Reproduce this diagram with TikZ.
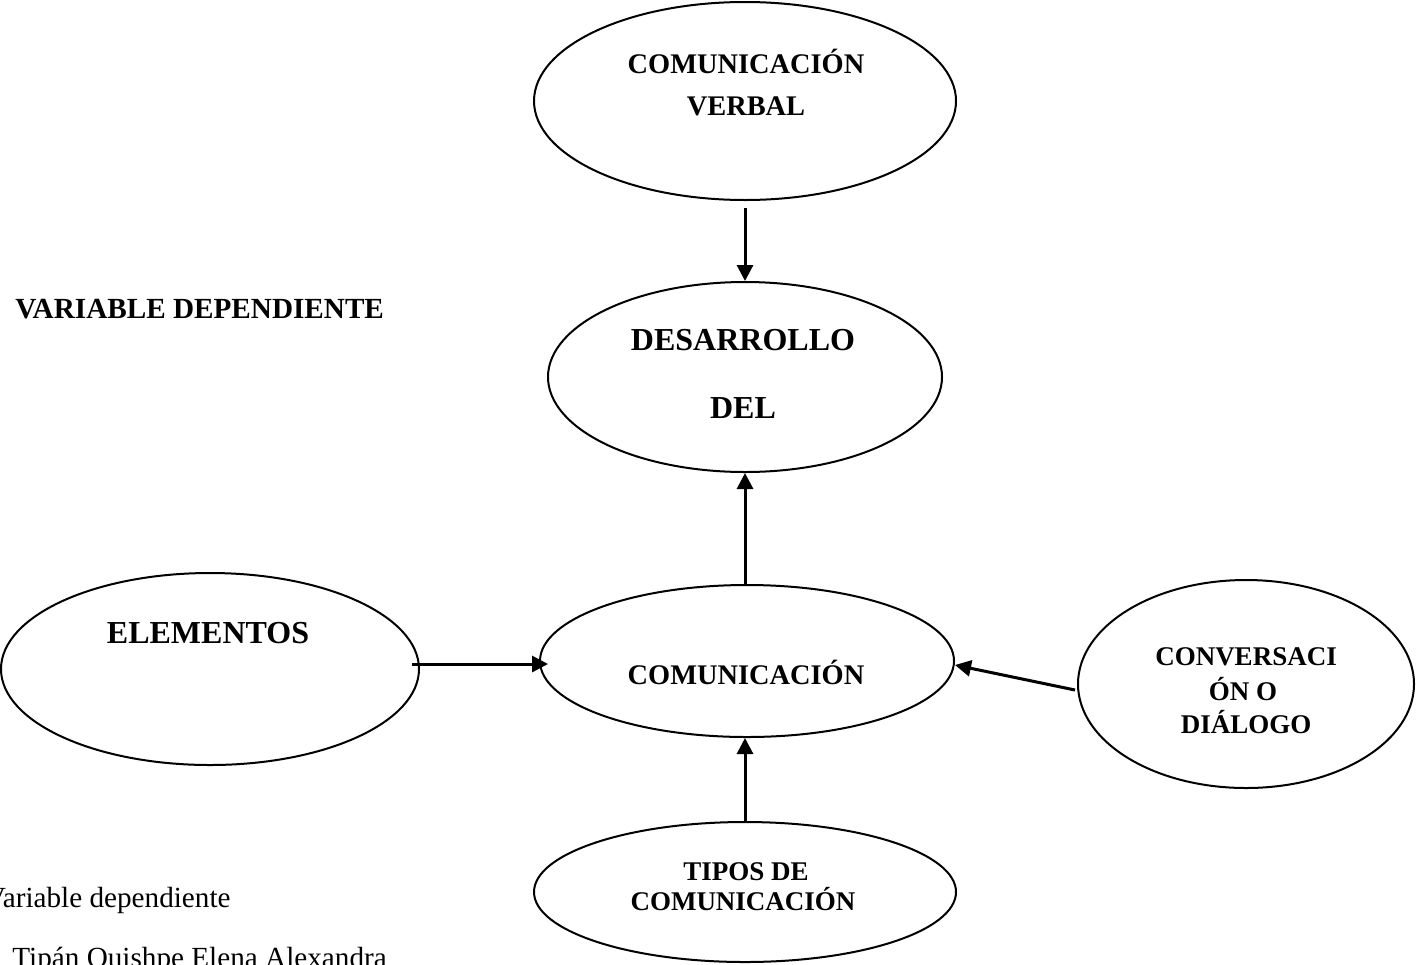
\documentclass[tikz,border=0pt]{standalone}
\usepackage{fontspec}
\setmainfont{Liberation Serif}
\usetikzlibrary{shapes.geometric,arrows.meta}
\tikzset{
  ell/.style={draw, ellipse, inner sep=0pt, line width=1pt},
  arr/.style={line width=1.5pt, -{Triangle[length=8pt,width=8pt]}},
  lbl/.style={anchor=base, inner sep=0pt, font=\bfseries\fontsize{14.2}{16}\selectfont},
  lblb/.style={anchor=base, inner sep=0pt, font=\bfseries\fontsize{16}{18}\selectfont},
  lbls/.style={anchor=base, inner sep=0pt, font=\bfseries\fontsize{13.5}{16}\selectfont},
  plain/.style={inner sep=0pt, font=\fontsize{14.6}{16}\selectfont}
}
\begin{document}
\begin{tikzpicture}[x=0.5pt,y=-0.5pt]
\useasboundingbox (0,0) rectangle (1416,964);
% ellipses
\node[ell, minimum width=211pt, minimum height=99pt] (verbal) at (745,101) {};
\node[ell, minimum width=197pt, minimum height=95pt] (desarrollo) at (745,377) {};
\node[ell, minimum width=209pt, minimum height=96pt] (elem) at (210,669) {};
\node[ell, minimum width=207pt, minimum height=76pt] (com) at (747,661) {};
\node[ell, minimum width=168pt, minimum height=104pt] (conv) at (1246,684) {};
\node[ell, minimum width=211pt, minimum height=70pt] (tipos) at (745,892) {};
% texts
\node[lbl] (t1a) at (746,73) {COMUNICACIÓN};
\node[lbl] (t1b) at (746,115) {VERBAL};
\node[lblb] (t2a) at (743,350) {DESARROLLO};
\node[lblb] (t2b) at (743,418) {DEL};
\node[lblb] (t3) at (208,643) {ELEMENTOS};
\node[lbl] (t4) at (746,684) {COMUNICACIÓN};
\node[lbls] (t5a) at (1246,665) {CONVERSACI};
\node[lbls] (t5b) at (1243,700) {ÓN O};
\node[lbls] (t5c) at (1246,733) {DIÁLOGO};
\node[lbls] (t6a) at (746,880) {TIPOS DE};
\node[lbls] (t6b) at (743,910) {COMUNICACIÓN};
\node[anchor=base west, inner sep=0pt, font=\bfseries\fontsize{14.6}{16}\selectfont] (vd) at (15,318) {VARIABLE DEPENDIENTE};
\node[plain, anchor=base east] (cap) at (231,907) {Variable dependiente};
\node[plain, anchor=base west] (auth) at (12,967) {Tipán Quishpe Elena Alexandra};
% connectors
\draw[arr] ([yshift=-3.5pt]verbal.south) -- (desarrollo.north);
\draw[arr] ([yshift=-1pt]com.north -| desarrollo.south) -- (desarrollo.south);
\draw[arr] ([xshift=-4pt,yshift=2.5pt]elem.east) coordinate (ea) -- ([xshift=4.5pt]ea -| com.west);
\draw[arr] ([xshift=-1pt,yshift=-3pt]conv.west) -- ([yshift=-2pt]com.east);
\draw[arr] (tipos.north) -- (tipos.north |- com.south);
\end{tikzpicture}
\end{document}
